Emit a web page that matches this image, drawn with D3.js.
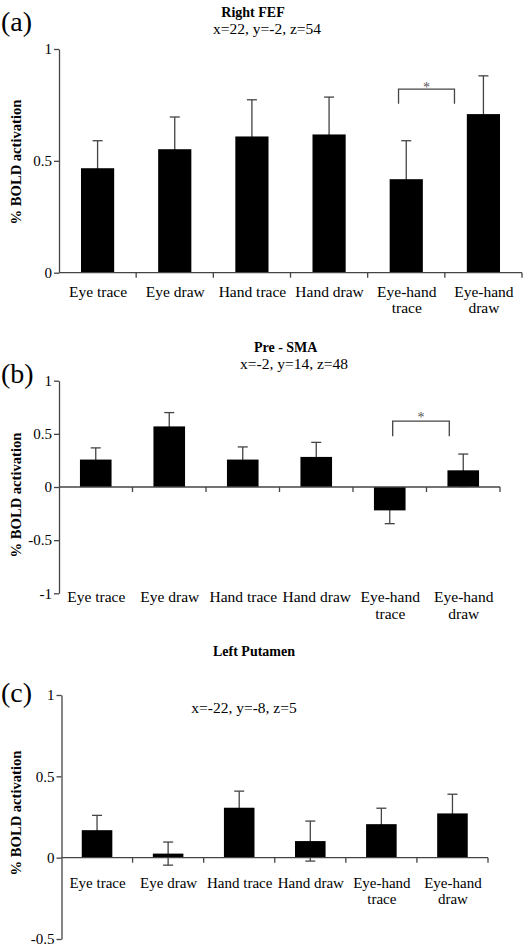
<!DOCTYPE html>
<html>
<head>
<meta charset="utf-8">
<script src="https://cdn.jsdelivr.net/npm/d3@7/dist/d3.min.js"></script>
<style>
  html, body { margin: 0; padding: 0; background: #fff; }
  svg { display: block; font-family: "Liberation Serif", "Times New Roman", serif; }
</style>
</head>
<body>
<svg id="chart" width="526" height="947"></svg>
<script>
// ---------- DATA ----------
const categories = ["Eye trace", "Eye draw", "Hand trace", "Hand draw", "Eye-hand trace", "Eye-hand draw"];
const categoryLines = [["Eye trace"], ["Eye draw"], ["Hand trace"], ["Hand draw"], ["Eye-hand", "trace"], ["Eye-hand", "draw"]];

const fefValues = [0.467, 0.552, 0.609, 0.618, 0.418, 0.709];
const fefErrors = [0.123, 0.144, 0.164, 0.167, 0.172, 0.171];

const smaValues = [0.258, 0.570, 0.258, 0.283, -0.220, 0.157];
const smaErrors = [0.110, 0.130, 0.119, 0.137, 0.125, 0.153];

const putamenValues = [0.169, 0.025, 0.307, 0.102, 0.206, 0.272];
const putamenErrors = [0.091, 0.071, 0.102, 0.123, 0.098, 0.118];

const fefTicks = [0, 0.5, 1];
const smaTicks = [-1, -0.5, 0, 0.5, 1];
const putamenTicks = [-0.5, 0, 0.5, 1];

const panelLetters = ["(a)", "(b)", "(c)"];
const titles = ["Right FEF", "Pre - SMA", "Left Putamen"];
const subtitles = ["x=22, y=-2, z=54", "x=-2, y=14, z=48", "x=-22, y=-8, z=5"];
const yLabel = "% BOLD activation";

// ---------- LAYOUT ----------
const svg = d3.select("#chart");
const axisColor = "#444";

const panels = [
  {
    values: fefValues, errors: fefErrors, ticks: fefTicks, domain: [0, 1],
    left: 59, right: 522, top: 49, bottom: 272.7,
    letter: { x: 1, y: 31 }, title: { x: 253, y: 17 }, sub: { x: 267, y: 34 },
    ylab: { x: 21, y: 162 }, catY: 297, catDy: 16, catSize: 15.5,
    sig: { from: 4, to: 5, fromOff: -0.10, toOff: -0.375, hi: 0.821, lo: 0.755, star: 0.845 }
  },
  {
    values: smaValues, errors: smaErrors, ticks: smaTicks, domain: [-1, 1],
    left: 59, right: 500, top: 380.7, bottom: 593.3,
    letter: { x: 1, y: 383 }, title: { x: 285.7, y: 352 }, sub: { x: 294, y: 369 },
    ylab: { x: 21, y: 495 }, catY: 602, catDy: 17, catSize: 15.5,
    sig: { from: 4, to: 5, fromOff: 0.04, toOff: -0.19, hi: 0.62, lo: 0.478, star: 0.69 }
  },
  {
    values: putamenValues, errors: putamenErrors, ticks: putamenTicks, domain: [-0.5, 1],
    left: 61.5, right: 488, top: 695, bottom: 939,
    letter: { x: 1, y: 702 }, title: { x: 254, y: 656 }, sub: { x: 244, y: 713 },
    ylab: { x: 21, y: 813 }, catY: 888, catDy: 16, catSize: 15,
    sig: null
  }
];

panels.forEach((p, pi) => {
  const g = svg.append("g");
  const y = d3.scaleLinear().domain(p.domain).range([p.bottom, p.top]);
  const x = d3.scaleBand().domain(categories).range([p.left, p.right])
    .paddingInner(0.57).paddingOuter(0.285);
  const step = x.step();
  const cx = c => x(c) + x.bandwidth() / 2;
  const y0 = y(0);

  // panel letter, title, subtitle
  g.append("text").attr("x", p.letter.x).attr("y", p.letter.y)
    .attr("font-size", 28).text(panelLetters[pi]);
  g.append("text").attr("x", p.title.x).attr("y", p.title.y)
    .attr("text-anchor", "middle").attr("font-size", 14).attr("font-weight", "bold")
    .text(titles[pi]);
  g.append("text").attr("x", p.sub.x).attr("y", p.sub.y)
    .attr("text-anchor", "middle").attr("font-size", 15.5)
    .text(subtitles[pi]);

  // y-axis label
  g.append("text")
    .attr("transform", `translate(${p.ylab.x},${p.ylab.y}) rotate(-90)`)
    .attr("text-anchor", "middle").attr("font-size", 14.6).attr("font-weight", "bold")
    .text(yLabel);

  const data = categories.map((c, i) => ({ c, v: p.values[i], e: p.errors[i] }));

  // error bars first (symmetric; the part inside a bar is covered by it)
  const capHalf = 5;
  const eb = g.selectAll("g.err").data(data).enter().append("g").attr("class", "err")
    .attr("stroke", axisColor).attr("stroke-width", 1.3);
  eb.append("line")
    .attr("x1", d => cx(d.c)).attr("x2", d => cx(d.c))
    .attr("y1", d => y(d.v - d.e)).attr("y2", d => y(d.v + d.e));
  eb.append("line")
    .attr("x1", d => cx(d.c) - capHalf).attr("x2", d => cx(d.c) + capHalf)
    .attr("y1", d => y(d.v + d.e)).attr("y2", d => y(d.v + d.e));
  eb.append("line")
    .attr("x1", d => cx(d.c) - capHalf).attr("x2", d => cx(d.c) + capHalf)
    .attr("y1", d => y(d.v - d.e)).attr("y2", d => y(d.v - d.e));

  // bars
  g.selectAll("rect.bar").data(data).enter().append("rect")
    .attr("class", "bar")
    .attr("x", d => x(d.c))
    .attr("width", x.bandwidth())
    .attr("y", d => Math.min(y(d.v), y0))
    .attr("height", d => Math.abs(y(d.v) - y0))
    .attr("fill", "#000");

  // y axis
  const yAxis = d3.axisLeft(y).tickValues(p.ticks).tickSize(5).tickSizeOuter(0)
    .tickPadding(2).tickFormat(d => String(d));
  const ya = g.append("g").attr("transform", `translate(${p.left},0)`).call(yAxis);
  ya.selectAll("path, line").attr("stroke", axisColor).attr("stroke-width", 1.3);
  ya.selectAll("text").attr("font-size", 15).attr("font-family", "Liberation Serif, serif")
    .attr("fill", "#000");

  // x axis at zero: line with ticks at band boundaries
  const bounds = d3.range(categories.length + 1).map(i => p.left + i * step);
  g.append("line").attr("x1", p.left).attr("x2", p.right).attr("y1", y0).attr("y2", y0)
    .attr("stroke", axisColor).attr("stroke-width", 1.3);
  g.selectAll("line.xt").data(bounds.slice(1)).enter().append("line")
    .attr("class", "xt")
    .attr("x1", d => d).attr("x2", d => d).attr("y1", y0).attr("y2", y0 + 5)
    .attr("stroke", axisColor).attr("stroke-width", 1.3);

  // category labels
  categories.forEach((c, i) => {
    const t = g.append("text").attr("text-anchor", "middle").attr("font-size", p.catSize)
      .attr("x", cx(c) + 0.5).attr("y", p.catY);
    categoryLines[i].forEach((ln, li) => {
      t.append("tspan").attr("x", cx(c) + 0.5).attr("dy", li === 0 ? 0 : p.catDy).text(ln);
    });
  });

  // significance bracket
  if (p.sig) {
    const s = p.sig;
    const xl = cx(categories[s.from]) + s.fromOff * step;
    const xr = cx(categories[s.to]) + s.toOff * step;
    g.append("path")
      .attr("d", `M${xl},${y(s.lo)}V${y(s.hi)}H${xr}V${y(s.lo)}`)
      .attr("fill", "none").attr("stroke", axisColor).attr("stroke-width", 1.3);
    g.append("text").attr("x", (xl + xr) / 2).attr("y", y(s.star) + 8)
      .attr("text-anchor", "middle").attr("font-size", 14).attr("fill", "#555").text("*");
  }
});
</script>
</body>
</html>
